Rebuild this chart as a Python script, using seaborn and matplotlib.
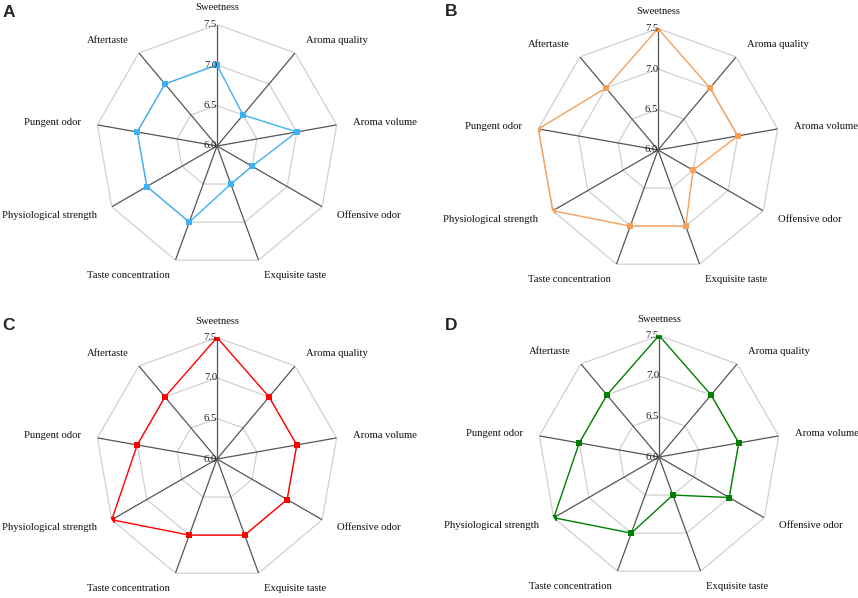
import matplotlib
matplotlib.use('Agg')
import matplotlib.pyplot as plt
import numpy as np
import pandas as pd
import seaborn as sns

# atributos sensoriales (9 ejes)
atributos = ['Sweetness', 'Aroma quality', 'Aroma volume', 'Offensive odor',
             'Exquisite taste', 'Taste concentration', 'Physiological strength',
             'Pungent odor', 'Aftertaste']

# puntuaciones de cada muestra
valores_a = [7.0, 6.5, 7.0, 6.5, 6.5, 7.0, 7.0, 7.0, 7.0]
valores_b = [7.5, 7.0, 7.0, 6.5, 7.0, 7.0, 7.5, 7.5, 7.0]
valores_c = [7.5, 7.0, 7.0, 7.0, 7.0, 7.0, 7.5, 7.0, 7.0]
valores_d = [7.5, 7.0, 7.0, 7.0, 6.5, 7.0, 7.5, 7.0, 7.0]

paneles = ['A', 'B', 'C', 'D']
colores = ['#3DB2F5', '#F5A05A', '#FF0000', '#008000']
niveles = [6.5, 7.0, 7.5]
etiquetas_r = ['6.0', '6.5', '7.0', '7.5']
rmin, rmax = 6.0, 7.5

sns.set_style('white')
plt.rcParams['font.family'] = ['Liberation Serif', 'DejaVu Serif']

W, H = 858, 598
fig = plt.figure(figsize=(W / 100, H / 100), dpi=100)

# centros (px) y radio de cada radar, posicion de la letra
centros = [(217, 146), (658, 150), (217, 459), (659, 457)]
pos_letra = [(3, 12.5), (445, 11), (2, 325.5), (445, 325.5)]
radio = 121.5
fs = 7.7

n = len(atributos)
angulos = np.arange(n) * 2 * np.pi / n

for panel, valores, color, (cx, cy), (lx, ly) in zip(
        paneles, [valores_a, valores_b, valores_c, valores_d], colores, centros, pos_letra):
    ax = fig.add_axes([(cx - radio) / W, 1 - (cy + radio) / H, 2 * radio / W, 2 * radio / H],
                      projection='polar')
    ax.set_theta_zero_location('N')
    ax.set_theta_direction(-1)
    ax.set_ylim(rmin, rmax)
    ax.grid(False)
    ax.spines['polar'].set_visible(False)
    ax.set_xticks([])
    ax.set_yticks([])
    ax.patch.set_alpha(0)

    # anillos poligonales
    cerrado = np.append(angulos, angulos[0])
    for nv in niveles:
        ax.plot(cerrado, [nv] * (n + 1), color='#D0D0D0', lw=0.9, zorder=1)
    # radios
    for a in angulos:
        ax.plot([a, a], [rmin, rmax], color='#555555', lw=0.9, zorder=2)

    # datos
    df = pd.DataFrame({'theta': np.append(angulos, 2 * np.pi),
                       'valor': valores + [valores[0]]})
    sns.lineplot(data=df, x='theta', y='valor', ax=ax, sort=False, estimator=None,
                 color=color, lw=1.0, marker='s', markersize=4.5,
                 markeredgewidth=0, zorder=3)
    ax.set_xlabel('')
    ax.set_ylabel('')

    # etiquetas de escala
    for txt in etiquetas_r:
        ax.text(0, float(txt), txt, fontsize=fs, ha='right', va='center',
                color='#222222', zorder=4)

    # nombres de atributos
    r_lab = rmin + (rmax - rmin) * 138 / radio
    for a, nombre in zip(angulos, atributos):
        s = np.sin(a)
        ha = 'left' if s > 0.1 else ('right' if s < -0.1 else 'center')
        ax.text(a, r_lab, nombre, fontsize=fs, ha=ha, va='center',
                clip_on=False, color='#111111')

    fig.text(lx / W, 1 - ly / H, panel, fontsize=12.5, fontweight='bold',
             family='Liberation Sans', ha='left', va='center')

fig.savefig('out.png', dpi=100)
